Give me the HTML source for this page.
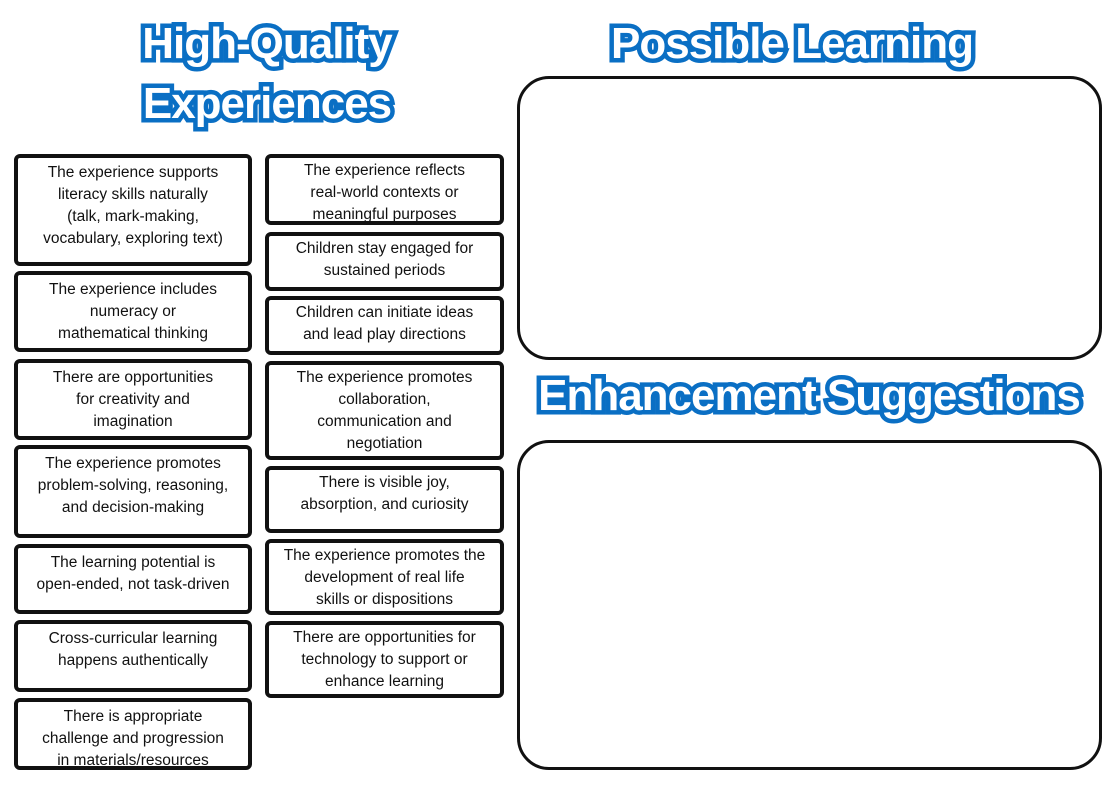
<!DOCTYPE html>
<html><head><style>
body{margin:0;width:1119px;height:786px;background:#fff;position:relative;overflow:hidden;font-family:"Liberation Sans",sans-serif}
.t{position:absolute;font-weight:bold;color:#fff;-webkit-text-stroke:9px #0a6fc4;paint-order:stroke fill;text-align:center;white-space:nowrap;letter-spacing:-1px;line-height:1}
.b{position:absolute;box-sizing:border-box;border:4px solid #111;border-radius:6px;text-align:center;font-size:15.5px;line-height:22px;color:#111;padding-top:4px}
.big{position:absolute;box-sizing:border-box;border:3px solid #111;border-radius:32px}
</style></head><body>
<div class="t" style="left:117px;top:22px;width:300px;font-size:44px">High-Quality</div>
<div class="t" style="left:117px;top:82px;width:300px;font-size:44px">Experiences</div>
<div class="t" style="left:592px;top:22px;width:400px;font-size:44px">Possible Learning</div>
<div class="t" style="left:519px;top:374px;width:580px;font-size:44px">Enhancement Suggestions</div>
<div class="big" style="left:517px;top:76px;width:585px;height:284px"></div>
<div class="big" style="left:517px;top:440px;width:585px;height:330px"></div>

<div class="b" style="left:14px;top:154px;width:238px;height:112px">The experience supports<br>literacy skills naturally<br>(talk, mark-making,<br>vocabulary, exploring text)</div>
<div class="b" style="left:14px;top:271px;width:238px;height:81px">The experience includes<br>numeracy or<br>mathematical thinking</div>
<div class="b" style="left:14px;top:359px;width:238px;height:81px">There are opportunities<br>for creativity and<br>imagination</div>
<div class="b" style="left:14px;top:445px;width:238px;height:93px">The experience promotes<br>problem-solving, reasoning,<br>and decision-making</div>
<div class="b" style="left:14px;top:544px;width:238px;height:70px">The learning potential is<br>open-ended, not task-driven</div>
<div class="b" style="left:14px;top:620px;width:238px;height:72px">Cross-curricular learning<br>happens authentically</div>
<div class="b" style="left:14px;top:698px;width:238px;height:72px">There is appropriate<br>challenge and progression<br>in materials/resources</div>

<div class="b" style="left:265px;top:154px;width:239px;height:71px;padding-top:2px">The experience reflects<br>real-world contexts or<br>meaningful purposes</div>
<div class="b" style="left:265px;top:232px;width:239px;height:59px;padding-top:2px">Children stay engaged for<br>sustained periods</div>
<div class="b" style="left:265px;top:296px;width:239px;height:59px;padding-top:2px">Children can initiate ideas<br>and lead play directions</div>
<div class="b" style="left:265px;top:361px;width:239px;height:99px;padding-top:2px">The experience promotes<br>collaboration,<br>communication and<br>negotiation</div>
<div class="b" style="left:265px;top:466px;width:239px;height:67px;padding-top:2px">There is visible joy,<br>absorption, and curiosity</div>
<div class="b" style="left:265px;top:539px;width:239px;height:76px;padding-top:2px">The experience promotes the<br>development of real life<br>skills or dispositions</div>
<div class="b" style="left:265px;top:621px;width:239px;height:77px;padding-top:2px">There are opportunities for<br>technology to support or<br>enhance learning</div>
</body></html>
